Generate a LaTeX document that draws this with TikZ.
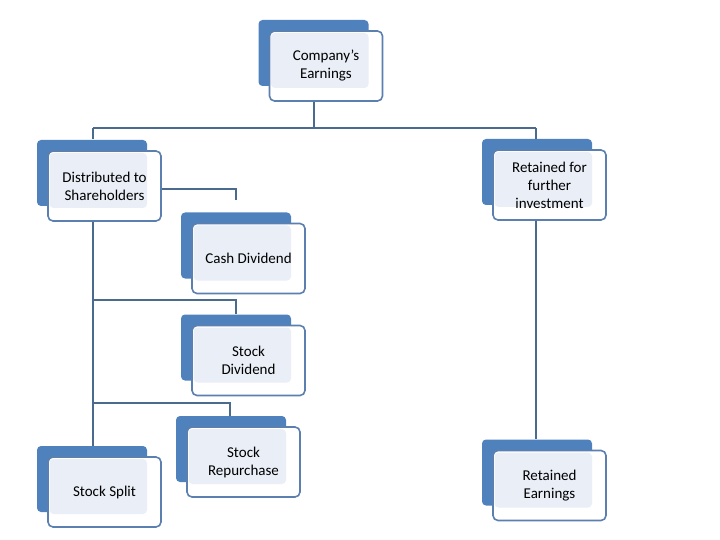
\documentclass[tikz,border=0pt]{standalone}
\usepackage{fontspec}
\setmainfont{Carlito}
\tikzset{
 back/.style={fill=blueback, rounded corners=4pt},
 tint/.style={fill=bluetint, rounded corners=4pt},
 card/.style={draw=blueline, line width=1.6pt, rounded corners=5pt, minimum width=113pt, minimum height=70pt, align=center, font=\fontsize{15}{18}\selectfont, inner sep=2pt},
 link/.style={draw=linkcol, line width=1.8pt}
}
\definecolor{blueback}{HTML}{4F81BD}
\definecolor{bluetint}{HTML}{E9EEF7}
\definecolor{blueline}{HTML}{5B7FAF}
\definecolor{linkcol}{HTML}{4A6A8E}
% card: name, x, y (center of front), text
\newcommand{\card}[4]{
 \fill[back] (#2-67.5,#3-46) rectangle (#2+42.5,#3+20);
 \fill[white, rounded corners=5pt] (#2-56.5,#3-35) rectangle (#2+56.5,#3+35);
 \fill[tint] (#2-55,#3-33) rectangle (#2+42.5,#3+22);
 \node[card] (#1) at (#2,#3) {#4};
}
\begin{document}
\begin{tikzpicture}[x=1pt, y=-1pt]
\useasboundingbox (0,0) rectangle (720,540);
\card{earn}{326}{66}{Company's\\Earnings}
\card{dist}{104.5}{186}{Distributed to\\Shareholders}
\card{ret}{549.5}{185}{Retained for\\further\\investment}
\card{cash}{248.5}{258.5}{Cash Dividend}
\card{sdiv}{248.5}{360.5}{Stock\\Dividend}
\card{rep}{243.5}{462}{Stock\\Repurchase}
\card{split}{104.5}{492}{Stock Split}
\card{reten}{549.5}{485.5}{Retained\\Earnings}
% connectors
\coordinate (top) at (314,128);
\coordinate (c1) at (236,189);
\coordinate (c2) at (236,200);
\draw[link] (earn.south -| top) -- (top);
\draw[link] (93,128) -- (536,128);
\draw[link] (93,128) -- (93,139);
\draw[link] (536,128) -- (536,139);
\draw[link] (dist.east |- c1) -- (c1) -- (c2);
\draw[link] (dist.south -| 93,0) -- (93,446);
\draw[link] (93,300) -- (236,300) -- (236,314);
\draw[link] (93,403) -- (230,403) -- (230,416);
\draw[link] (ret.south -| 536,0) -- (536,439);
\end{tikzpicture}
\end{document}
